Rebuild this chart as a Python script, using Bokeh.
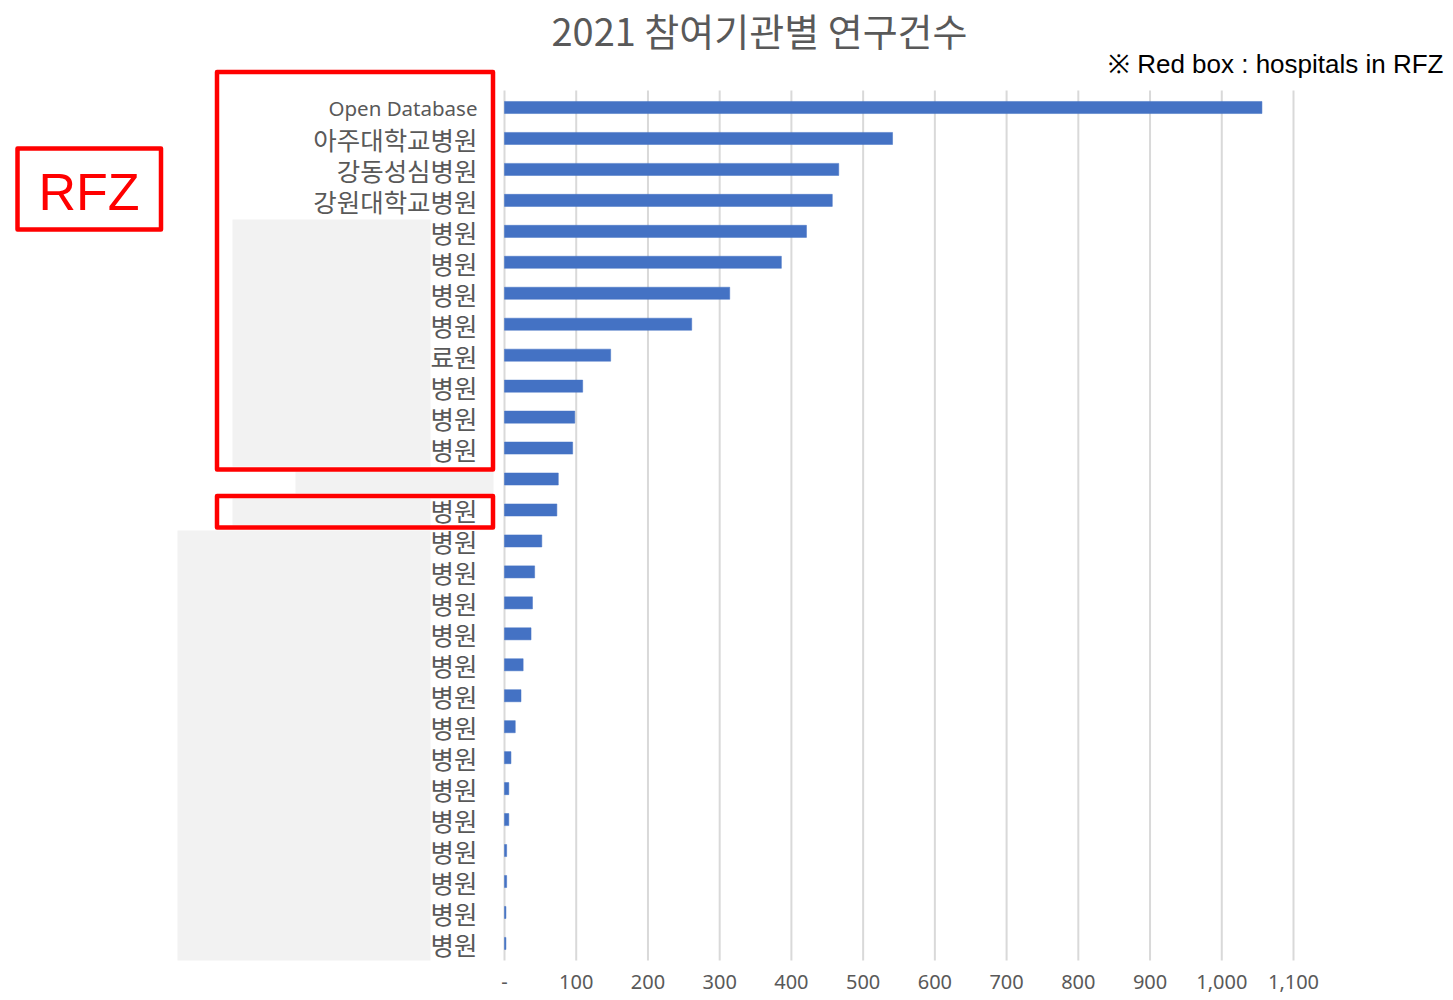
from bokeh.plotting import figure
from bokeh.models import Range1d, FixedTicker, ColumnDataSource
from bokeh.core.properties import value
from bokeh.embed import file_html
from bokeh.resources import INLINE

# ---------------- data ----------------
labels = ["Open Database", "아주대학교병원", "강동성심병원", "강원대학교병원",
          "병원", "병원", "병원", "병원", "료원", "병원", "병원", "병원", "",
          "병원", "병원", "병원", "병원", "병원", "병원", "병원", "병원", "병원",
          "병원", "병원", "병원", "병원", "병원", "병원"]
counts = [1056, 541, 466, 457, 421, 386, 314, 261, 148, 109, 98, 95, 75,
          73, 52, 42, 39, 37, 26, 23, 15, 9, 6, 6, 3, 3, 2, 2]
x_ticks = [0, 100, 200, 300, 400, 500, 600, 700, 800, 900, 1000, 1100]
tick_labels = ["-", "100", "200", "300", "400", "500", "600", "700", "800",
               "900", "1,000", "1,100"]
title_text = "2021 참여기관별 연구건수"
note_text = "※ Red box : hospitals in RFZ"
rfz_text = "RFZ"

# ---------------- layout ----------------
W, H = 1453, 1000
BOTTOM = 40
FRAME_H = H - BOTTOM
X0_PX, X1100_PX = 504, 1293
K = (X1100_PX - X0_PX) / 1100.0
ROW0, PITCH = 107, 30.96


def px2x(px):
    return (px - X0_PX) / K


def py2y(py):
    return (py - ROW0) / PITCH


rows = list(range(len(counts)))

p = figure(width=W, height=H, output_backend="svg", toolbar_location=None,
           x_range=Range1d(px2x(0), px2x(W)),
           y_range=Range1d(py2y(FRAME_H), py2y(0)),
           y_axis_location=None,
           min_border_left=0, min_border_right=0, min_border_top=0,
           min_border_bottom=BOTTOM)
p.outline_line_color = None
p.background_fill_color = "white"
p.border_fill_color = "white"
p.xgrid.visible = False
p.ygrid.visible = False

ax = p.xaxis[0]
ax.ticker = FixedTicker(ticks=x_ticks)
ax.major_label_overrides = {t: s for t, s in zip(x_ticks, tick_labels)}
ax.axis_line_color = None
ax.major_tick_line_color = None
ax.major_tick_in = 0
ax.major_tick_out = 0
ax.minor_tick_line_color = None
ax.minor_tick_in = 0
ax.minor_tick_out = 0
ax.major_label_standoff = 14
ax.major_label_text_font = "Noto Sans"
ax.major_label_text_font_size = "20px"
ax.major_label_text_color = "#595959"

# gridlines (at tick values)
p.segment(x0=x_ticks, x1=x_ticks, y0=[py2y(90)] * len(x_ticks),
          y1=[py2y(962)] * len(x_ticks), line_color="#d9d9d9", line_width=2)

# bars
src = ColumnDataSource(dict(y=rows, v=counts, lab=labels))
p.hbar(y="y", left=0, right="v", height=0.39, source=src,
       fill_color="#4472c4", line_color="#4472c4", line_width=0.5)

# category labels
lx = px2x(477)
p.text(x=[lx], y=[rows[0]], text=[labels[0]], text_align="right",
       text_baseline="middle", text_font=value("Noto Sans"),
       text_font_size="20.5px", text_color="#595959")
kr_rows = [r for r in rows[1:] if labels[r]]
p.text(x=[lx] * len(kr_rows), y=kr_rows, text=[labels[r] for r in kr_rows],
       text_align="right", text_baseline="middle",
       text_font=value("Noto Sans CJK KR"), text_font_size="25.5px",
       text_color="#595959")

# grey redaction boxes
gl = [232, 295, 232, 177]
gr = [430, 493, 430, 430]
gt = [219, 471, 498, 530]
gb = [466, 493, 525, 965]
p.quad(left=[px2x(v) for v in gl], right=[px2x(v) for v in gr],
       top=[py2y(v) for v in gt], bottom=[py2y(v) for v in gb],
       fill_color="#f2f2f2", line_color=None)

# red boxes
rl = [216.5, 216.5, 17]
rr = [492.5, 492.5, 160.5]
rt = [71.5, 495.5, 148]
rb = [469, 527, 229]
p.quad(left=[px2x(v) for v in rl], right=[px2x(v) for v in rr],
       top=[py2y(v) for v in rt], bottom=[py2y(v) for v in rb],
       fill_color=None, line_color="#ff0000", line_width=4.5,
       line_join="round")

# title, note, RFZ
p.text(x=[px2x(759)], y=[py2y(29)], text=[title_text], text_align="center",
       text_baseline="middle", text_font=value("Noto Sans CJK KR"),
       text_font_size="38px", text_color="#595959")
p.text(x=[px2x(1443)], y=[py2y(63)], text=[note_text], text_align="right",
       text_baseline="middle", text_font=value("Liberation Sans"),
       text_font_size="26px", text_color="#000000")
p.text(x=[px2x(88.5)], y=[py2y(191)], text=[rfz_text], text_align="center",
       text_baseline="middle", text_font=value("Liberation Sans"),
       text_font_size="52px", text_color="#ff0000")

open("out.html", "w").write(file_html(p, INLINE))
